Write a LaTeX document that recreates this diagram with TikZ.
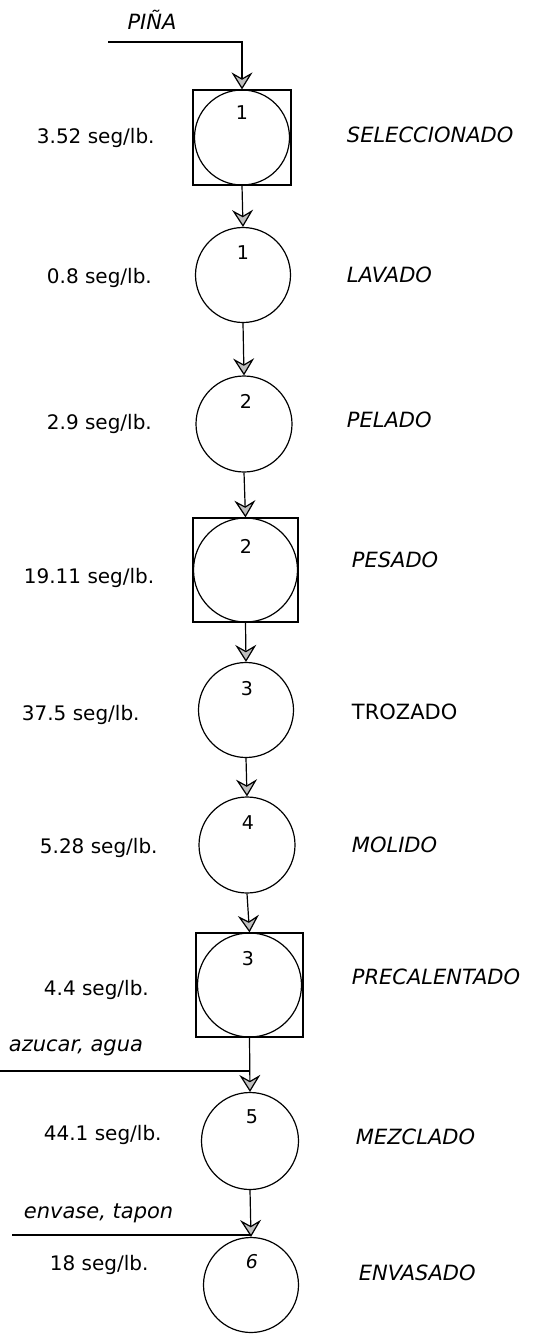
\documentclass[tikz,border=0pt]{standalone}
\usepackage{fontspec}
\setmainfont{DejaVu Sans}
\usetikzlibrary{arrows.meta}

\begin{document}
\begin{tikzpicture}[x=1pt, y=-1pt, line width=1.2pt,
  every node/.style={font=\fontsize{20}{24}\selectfont},
  op/.style={draw, circle, minimum size=#1, inner sep=0pt},
  insp/.style={draw, rectangle, minimum width=#1, inner sep=0pt},
  num/.style={font=\fontsize{19}{22}\selectfont},
  tiempo/.style={anchor=west},
  nombre/.style={anchor=west, font=\fontsize{21}{24}\selectfont\itshape},
  flecha/.style={-{Stealth[open, length=17pt, width=21pt, inset=6pt, fill=black!25]}}]
\useasboundingbox (0,0) rectangle (535,1335);

% operaciones e inspecciones
\node[insp=98pt, minimum height=95pt] (s1) at (242,137.5) {};
\node[op=95pt] (o1) at (242,137.5) {};
\node[op=95pt] (o2) at (243,275) {};
\node[op=96pt] (o3) at (244,424) {};
\node[insp=105pt, minimum height=104pt] (s2) at (245.5,570) {};
\node[op=104pt] (o4) at (245.5,570) {};
\node[op=95pt] (o5) at (246,710) {};
\node[op=96pt] (o6) at (247,845) {};
\node[insp=107pt, minimum height=104pt] (s3) at (249.5,985) {};
\node[op=104pt] (o7) at (249.5,985) {};
\node[op=97pt] (o8) at (250,1141) {};
\node[op=95pt] (o9) at (251,1285) {};

% numeros
\node[num] (n1) at (242,113) {1};
\node[num] (n2) at (243,253) {1};
\node[num] (n3) at (246,401) {2};
\node[num] (n4) at (246,546) {2};
\node[num] (n5) at (247,689) {3};
\node[num] (n6) at (248,823) {4};
\node[num] (n7) at (248,959) {3};
\node[num] (n8) at (252,1117) {5};
\node[num, font=\fontsize{19}{22}\selectfont\itshape] (n9) at (252,1262) {6};

% tiempos
\node[tiempo] (t1) at (33,138) {3.52 seg/lb.};
\node[tiempo] (t2) at (43,278) {0.8 seg/lb.};
\node[tiempo] (t3) at (43,424) {2.9 seg/lb.};
\node[tiempo] (t4) at (20,578) {19.11 seg/lb.};
\node[tiempo] (t5) at (18,715) {37.5 seg/lb.};
\node[tiempo] (t6) at (36,848) {5.28 seg/lb.};
\node[tiempo] (t7) at (40,990) {4.4 seg/lb.};
\node[tiempo] (t8) at (40,1135) {44.1 seg/lb.};
\node[tiempo] (t9) at (46,1265) {18 seg/lb.};

% nombres
\node[nombre] (p1) at (343,135) {SELECCIONADO};
\node[nombre] (p2) at (343,275) {LAVADO};
\node[nombre] (p3) at (343,420) {PELADO};
\node[nombre] (p4) at (348,560) {PESADO};
\node[tiempo, font=\fontsize{21}{24}\selectfont] (p5) at (348,712) {TROZADO};
\node[nombre] (p6) at (348,845) {MOLIDO};
\node[nombre] (p7) at (348,977) {PRECALENTADO};
\node[nombre] (p8) at (352,1137) {MEZCLADO};
\node[nombre] (p9) at (355,1273) {ENVASADO};

% entradas
\coordinate (pina) at (108,42);
\coordinate (azucar) at (0,1071);
\coordinate (envase) at (12,1235);
\node[nombre, anchor=center] (e1) at (152,20) {PIÑA};
\node[nombre, anchor=west] (e2) at (5,1048) {azucar, agua};
\node[nombre, anchor=west] (e3) at (20,1213) {envase, tapon};

\draw[flecha] (pina) -| (s1.north);
\draw[flecha] (s1.south) -- (o2.north);
\draw[flecha] (o2.south) -- (o3.north);
\draw[flecha] (o3.south) -- (s2.north);
\draw[flecha] (s2.south) -- (o5.north);
\draw[flecha] (o5.south) -- (o6.north);
\draw[flecha] (o6.south) -- (s3.north);
\draw[flecha] (s3.south) -- (o8.north);
\draw (azucar) -- (azucar -| o8.north);
\draw[flecha] (o8.south) -- (o9.north);
\draw (envase) -- (envase -| o9.north);
\end{tikzpicture}
\end{document}
